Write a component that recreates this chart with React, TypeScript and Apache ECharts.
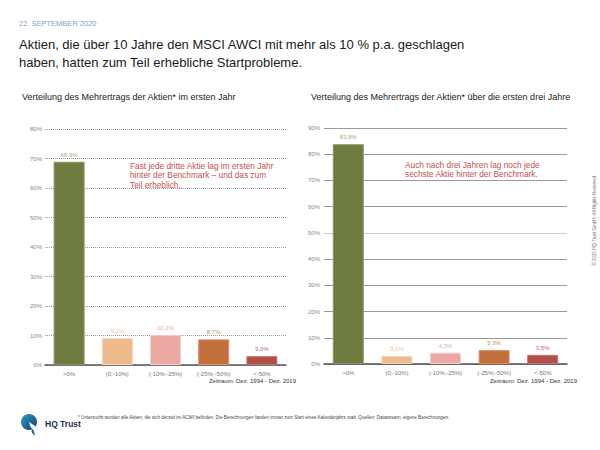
import React, { useEffect, useRef } from "react";
import * as echarts from "echarts";

const categories = [">0%", "(0;-10%)", "(-10%;-25%)", "(-25%;-50%)", "<-50%"];
const firstYear = [68.9, 9.1, 10.2, 8.7, 3.0];
const threeYears = [83.8, 3.1, 4.3, 5.3, 3.5];
const barColors = ["#6e7d3f", "#eebb8d", "#eca8a2", "#c4703e", "#b0504b"];
const borderColors = ["#8a9660", "#f6d6b6", "#f5cdc9", "#d89266", "#c57570"];
const labelColors = ["#a9ad80", "#f1c59c", "#eaa9a2", "#d48959", "#c4625d"];
const leftTicks = { min: 0, max: 80, interval: 10 };
const rightTicks = { min: 0, max: 90, interval: 10 };

const FONT = "'Liberation Sans', Arial, sans-serif";

function fmt(v: number) {
  return v.toFixed(1).replace(".", ",") + "%";
}

function seriesData(vals: number[]) {
  return vals.map((v, i) => ({
    value: v,
    itemStyle: { color: barColors[i], borderColor: borderColors[i], borderWidth: 1 },
    label: { color: labelColors[i] },
  }));
}

export default function App() {
  const ref = useRef<HTMLDivElement>(null);
  useEffect(() => {
    if (!ref.current) return;
    const chart = echarts.init(ref.current, undefined, { renderer: "svg" });
    const rightSplitColors = ["#999", "#999", "#999", "#999", "#999", "#cfcfcf", "#999", "#999", "#999", "#999"];
    const xAxisCommon = {
      type: "category" as const,
      data: categories,
      axisTick: { show: false },
      axisLine: { lineStyle: { color: "#555", width: 1.5 } },
      axisLabel: { fontSize: 6, color: "#777", margin: 6, fontFamily: FONT, interval: 0 },
    };
    const yAxisCommon = {
      type: "value" as const,
      axisLabel: { fontSize: 6, color: "#888", fontFamily: FONT, formatter: "{value}%" },
      axisLine: { show: false },
      axisTick: { show: false },
    };
    const seriesCommon = {
      type: "bar" as const,
      barWidth: 31,
      label: {
        show: true,
        position: "top" as const,
        distance: 4,
        fontSize: 6,
        fontFamily: FONT,
        formatter: (p: any) => fmt(p.value),
      },
    };
    chart.setOption({
      animation: false,
      grid: [
        { left: 45, right: 314, top: 129, bottom: 85 },
        { left: 324, right: 33, top: 128, bottom: 86 },
      ],
      xAxis: [
        { ...xAxisCommon, gridIndex: 0 },
        { ...xAxisCommon, gridIndex: 1 },
      ],
      yAxis: [
        {
          ...yAxisCommon,
          gridIndex: 0,
          ...leftTicks,
          axisLabel: { ...yAxisCommon.axisLabel, margin: 3 },
          splitLine: { lineStyle: { color: "#999", type: [1, 1], width: 1 } },
        },
        {
          ...yAxisCommon,
          gridIndex: 1,
          ...rightTicks,
          axisLabel: { ...yAxisCommon.axisLabel, margin: 4 },
          splitLine: { lineStyle: { color: rightSplitColors, width: 1 } },
        },
      ],
      series: [
        { ...seriesCommon, xAxisIndex: 0, yAxisIndex: 0, data: seriesData(firstYear) },
        { ...seriesCommon, xAxisIndex: 1, yAxisIndex: 1, data: seriesData(threeYears) },
      ],
      graphic: [
        { type: "text", left: 19, top: 19, style: { text: "22. SEPTEMBER 2020", fontSize: 7.5, fill: "#7fa3c6", fontFamily: FONT } },
        {
          type: "text",
          left: 19,
          top: 35,
          style: {
            text: "Aktien, die über 10 Jahre den MSCI AWCI mit mehr als 10 % p.a. geschlagen\nhaben, hatten zum Teil erhebliche Startprobleme.",
            fontSize: 13,
            lineHeight: 18,
            fill: "#1a1a1a",
            fontFamily: FONT,
          },
        },
        { type: "text", left: 22, top: 92, style: { text: "Verteilung des Mehrertrags der Aktien* im ersten Jahr", fontSize: 9, fill: "#222", fontFamily: FONT } },
        { type: "text", left: 311, top: 92, style: { text: "Verteilung des Mehrertrags der Aktien* über die ersten drei Jahre", fontSize: 9, fill: "#222", fontFamily: FONT } },
        {
          type: "text",
          left: 130,
          top: 161,
          style: {
            text: "Fast jede dritte Aktie lag im ersten Jahr\nhinter der Benchmark – und das zum\nTeil erheblich.",
            fontSize: 8.3,
            lineHeight: 9.5,
            fill: "#c5504b",
            fontFamily: FONT,
          },
        },
        {
          type: "text",
          left: 405,
          top: 160,
          style: {
            text: "Auch nach drei Jahren lag noch jede\nsechste Aktie hinter der Benchmark.",
            fontSize: 8.3,
            lineHeight: 9.5,
            fill: "#c5504b",
            fontFamily: FONT,
          },
        },
        { type: "text", right: 304, top: 378, style: { text: "Zeitraum: Dez. 1994 - Dez. 2019", fontSize: 6, fill: "#333", fontFamily: FONT } },
        { type: "text", right: 23, top: 378, style: { text: "Zeitraum: Dez. 1994 - Dez. 2019", fontSize: 6, fill: "#333", fontFamily: FONT } },
        {
          type: "text",
          left: 78,
          top: 415,
          style: {
            text: "* Untersucht wurden alle Aktien, die sich derzeit im ACWI befinden. Die Berechnungen fanden immer zum Start eines Kalenderjahrs statt. Quellen: Datastream, eigene Berechnungen.",
            fontSize: 4.6,
            fill: "#444",
            fontFamily: FONT,
          },
        },
        {
          type: "text",
          x: 594,
          y: 220,
          rotation: Math.PI / 2,
          style: {
            text: "© 2020 HQ Trust GmbH. All Rights Reserved.",
            fontSize: 4.5,
            fill: "#777",
            fontFamily: FONT,
            align: "center",
            verticalAlign: "middle",
          },
        },
        {
          type: "circle",
          shape: { cx: 29, cy: 422, r: 8 },
          style: {
            fill: new echarts.graphic.LinearGradient(0, 0, 1, 1, [
              { offset: 0, color: "#2d9fc4" },
              { offset: 1, color: "#123f6e" },
            ]),
          },
        },
        {
          type: "polygon",
          shape: { points: [[29, 422], [38, 428], [36, 432], [32, 431]] },
          style: { fill: "#fff" },
        },
        {
          type: "polygon",
          shape: { points: [[31, 427], [34, 431], [35, 436], [32, 433]] },
          style: { fill: "#1d6d9c" },
        },
        { type: "text", left: 45, top: 419, style: { text: "HQ Trust", fontSize: 8.5, fontWeight: "bold", fill: "#1c2f4d", fontFamily: FONT } },
      ],
    });
    return () => chart.dispose();
  }, []);
  return <div ref={ref} style={{ position: "fixed", left: 0, top: 0, width: 600, height: 450, background: "#fff" }} />;
}
